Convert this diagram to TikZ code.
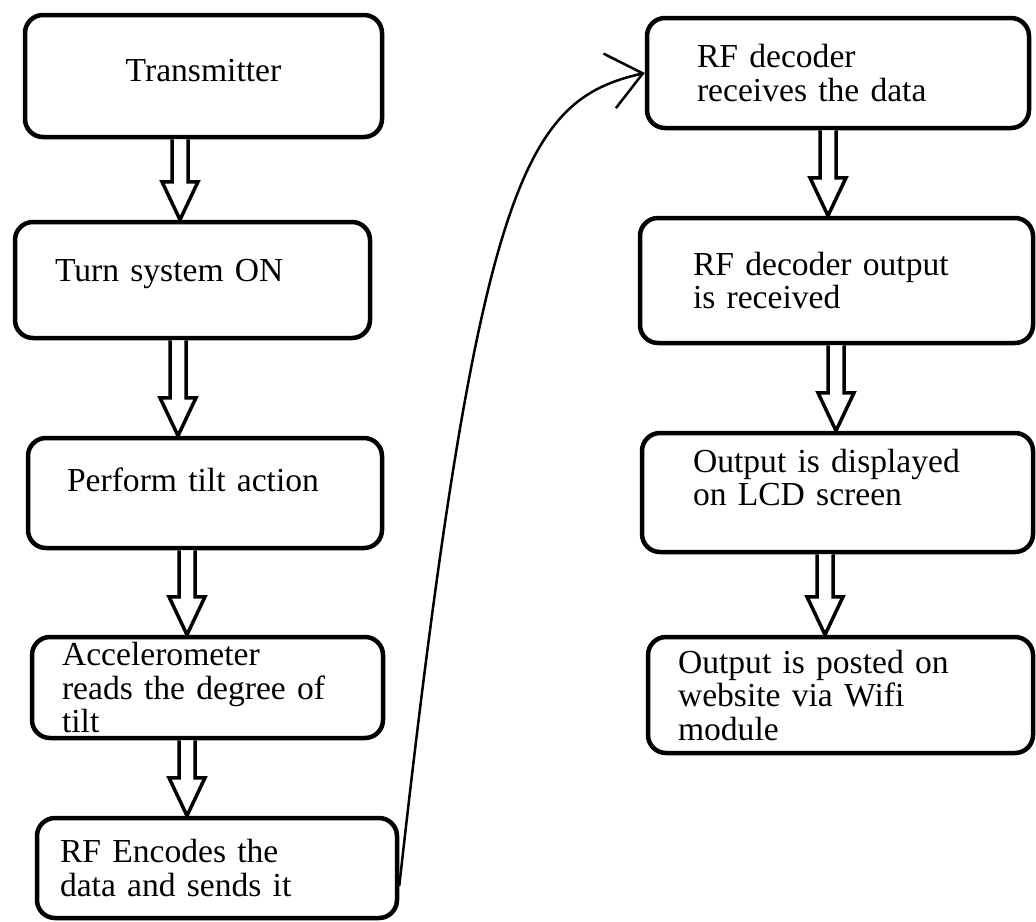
\documentclass[tikz,border=0pt]{standalone}
\usepackage{fontspec}
\setmainfont{Liberation Serif}
\usetikzlibrary{arrows.meta,calc}

% hollow block arrow from box #2 down to box #3, shaft at x = #1
\newcommand{\hollowarrow}[3]{%
  \coordinate (ha-x) at (#1,0);
  \coordinate (ha-s) at (#2.south -| ha-x);
  \coordinate (ha-e) at (#3.north -| ha-x);
  \draw[hollow] ($(ha-s)+(-8,0)$) -- ($(ha-e)+(-8,-38)$) -- ($(ha-e)+(-18,-38)$)
    -- (ha-e) -- ($(ha-e)+(18,-38)$) -- ($(ha-e)+(8,-38)$) -- ($(ha-s)+(8,0)$);
}

\begin{document}
\begin{tikzpicture}[
    x=1pt, y=-1pt,
    stepbox/.style={draw, line width=4.5pt, rounded corners=18pt, inner sep=0pt,
      font=\fontsize{33.6}{33.5}\selectfont},
    hollow/.style={draw, line width=3.5pt, fill=white, line join=miter},
    link/.style={line width=2.5pt, -{Straight Barb[length=34pt,width=56pt]}}
]
\useasboundingbox (0,0) rectangle (1036,921);

% --- transmitter side ---
\node[stepbox, minimum width=357, minimum height=122, text depth=12pt] (trans) at (203.5,76) {Transmitter};
\node[stepbox, minimum width=355, minimum height=116, text width=275, align=left, text depth=20pt] (turnon) at (192.5,280) {Turn system ON};
\node[stepbox, minimum width=354, minimum height=110, text width=276, align=left, text depth=26pt] (tilt) at (205,493) {Perform tilt action};
\node[stepbox, minimum width=351, minimum height=101, text width=291, align=left] (accel) at (207.5,687.5) {Accelerometer\\reads the degree of\\tilt};
\node[stepbox, minimum width=360, minimum height=100, text width=314, align=left] (encode) at (217,868) {RF Encodes the\\data and sends it};

% --- receiver side ---
\node[stepbox, minimum width=382, minimum height=110, text width=282, align=left] (decode) at (838,73) {RF decoder\\receives the data};
\node[stepbox, minimum width=393, minimum height=125, text width=287, align=left] (decout) at (836.5,280.5) {RF decoder output\\is received};
\node[stepbox, minimum width=391, minimum height=119, text width=289, align=left, text depth=63.5pt] (lcd) at (837.5,492.5) {Output is displayed\\on LCD screen};
\node[stepbox, minimum width=385, minimum height=116, text width=325, align=left] (web) at (840.5,695) {Output is posted on\\website via Wifi\\module};

% --- arrows ---
\hollowarrow{180}{trans}{turnon}
\hollowarrow{178}{turnon}{tilt}
\hollowarrow{187}{tilt}{accel}
\hollowarrow{187}{accel}{encode}
\hollowarrow{828}{decode}{decout}
\hollowarrow{836}{decout}{lcd}
\hollowarrow{825}{lcd}{web}

% RF link
\draw[link] ([yshift=-18pt]encode.east) .. controls (478,180) and (525,100) .. (decode.west);

\end{tikzpicture}
\end{document}
